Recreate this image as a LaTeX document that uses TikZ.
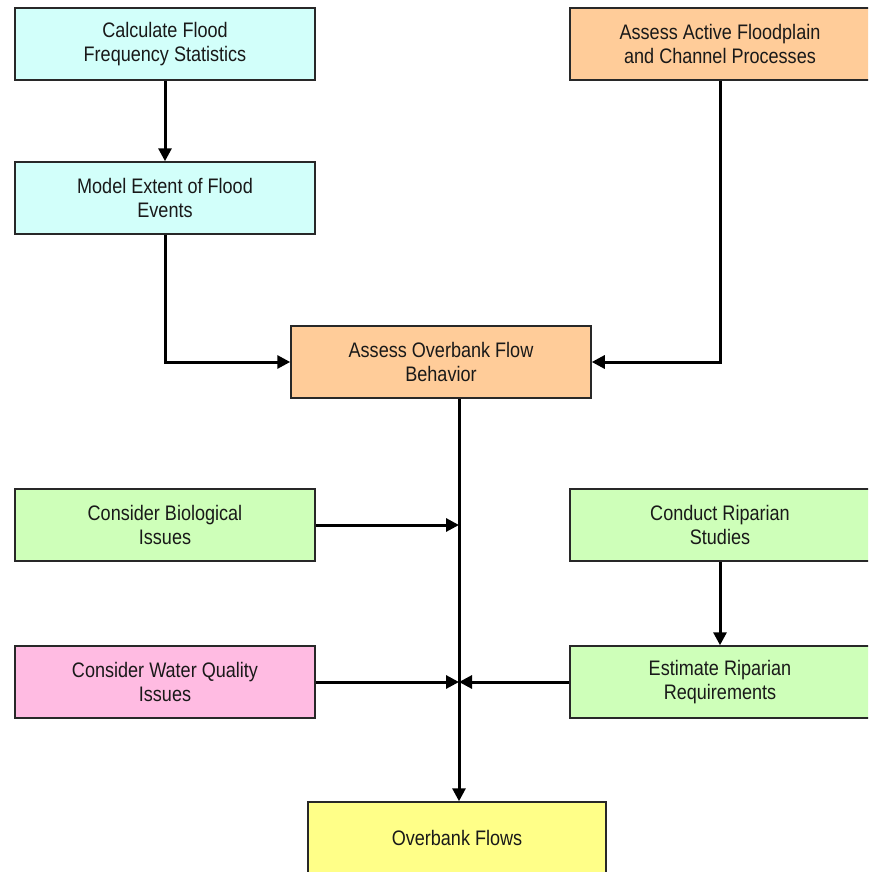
\documentclass[tikz,border=0pt]{standalone}
\usepackage{fontspec}
\setmainfont[FakeStretch=0.86]{Liberation Sans}
\usetikzlibrary{arrows.meta}
\definecolor{ccyan}{RGB}{210,255,250}
\definecolor{corange}{RGB}{255,204,153}
\definecolor{cgreen}{RGB}{206,255,185}
\definecolor{cpink}{RGB}{255,187,226}
\definecolor{cyellow}{RGB}{255,255,136}
\definecolor{cborder}{RGB}{40,40,40}
\tikzset{
  box/.style={draw=cborder, line width=1.5pt, minimum width=300pt, minimum height=72pt,
    inner sep=0pt, align=center, font=\fontsize{21}{24}\selectfont, text=black!90},
  conn/.style={line width=3pt, black, -{Triangle[length=13pt,width=13pt]}}
}
\begin{document}
\begin{tikzpicture}[x=1pt,y=-1pt]
\useasboundingbox (0,0) rectangle (868,872);
\clip (0,0) rectangle (868,872);
\node[box, fill=ccyan] (calc) at (165,44) {Calculate Flood\\Frequency Statistics};
\node[box, fill=ccyan] (model) at (165,198) {Model Extent of Flood\\Events};
\node[box, fill=corange] (active) at (720,44) {Assess Active Floodplain\\and Channel Processes};
\node[box, fill=corange] (assess) at (441,362) {Assess Overbank Flow\\Behavior};
\node[box, fill=cgreen] (bio) at (165,525) {Consider Biological\\Issues};
\node[box, fill=cgreen] (conduct) at (720,525) {Conduct Riparian\\Studies};
\node[box, fill=cpink] (wq) at (165,682) {Consider Water Quality\\Issues};
\node[box, fill=cgreen] (est) at (720,682) {Estimate Riparian\\Requirements};
\node[box, fill=cyellow, minimum width=298pt] (flows) at (457,838) {Overbank Flows};
\coordinate (j1) at (459,525);
\coordinate (j2) at (459,682);
\draw[conn] (calc) -- (model);
\draw[conn] (model.south) |- (assess.west);
\draw[conn] (active.south) |- (assess.east);
\draw[conn] (assess.south -| j1) -- (j1 |- flows.north);
\draw[conn] (bio.east) -- (j1);
\draw[conn] (wq.east) -- (j2);
\draw[conn] (est.west) -- (j2);
\draw[conn] (conduct) -- (est);
\end{tikzpicture}
\end{document}
